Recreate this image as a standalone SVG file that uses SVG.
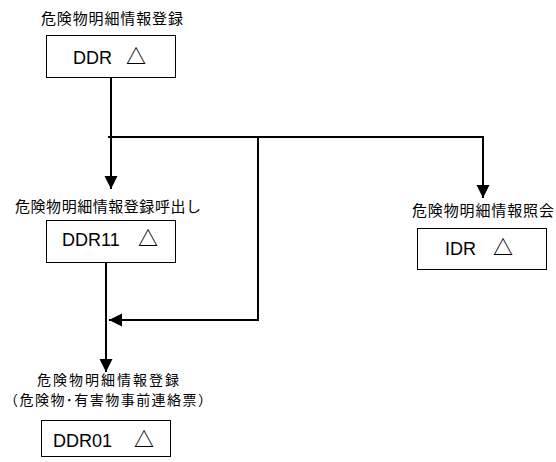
<svg xmlns="http://www.w3.org/2000/svg" width="556" height="462" viewBox="0 0 556 462">
<style>
.box{fill:#fff;stroke:#000;stroke-width:1}
.lbl{font-family:"Noto Sans CJK JP","Noto Sans CJK SC",sans-serif;font-size:15px;fill:#000;text-anchor:middle}
.sm{font-size:14px}
.code{font-family:"Liberation Sans",Arial,sans-serif;font-size:18px;fill:#000}
.tri{font-family:"Noto Sans CJK JP",sans-serif;font-size:20px;font-weight:700;fill:#000}
.ln{fill:none;stroke:#000;stroke-width:2}
</style>
<defs>
<marker id="arr" markerUnits="userSpaceOnUse" markerWidth="14" markerHeight="14" refX="13" refY="6.5" orient="auto">
<path d="M0,0 L13,6.5 L0,13 z" fill="#000"/>
</marker>
</defs>
<rect width="556" height="462" fill="#fff"/>
<g id="connectors">
<path class="ln" d="M111,77 V189" marker-end="url(#arr)"/>
<path class="ln" d="M108,137 H483 V198" marker-end="url(#arr)"/>
<path class="ln" d="M258,137 V320 H109" marker-end="url(#arr)"/>
<path class="ln" d="M106,262 V372" marker-end="url(#arr)"/>
</g>
<g id="DDR">
<text class="lbl" x="112" y="24" textLength="142" lengthAdjust="spacing">危険物明細情報登録</text>
<rect class="box" x="46.5" y="35.5" width="129" height="42"/>
<text class="code" x="73" y="64">DDR</text><text class="tri" x="126" y="64">△</text>
</g>
<g id="DDR11">
<text class="lbl" x="108" y="212" textLength="186" lengthAdjust="spacing">危険物明細情報登録呼出し</text>
<rect class="box" x="46.5" y="220.5" width="129" height="42"/>
<text class="code" x="62" y="246">DDR11</text><text class="tri" x="138" y="246">△</text>
</g>
<g id="IDR">
<text class="lbl" x="483" y="216" textLength="142" lengthAdjust="spacing">危険物明細情報照会</text>
<rect class="box" x="417.5" y="228.5" width="129" height="41"/>
<text class="code" x="445" y="255">IDR</text><text class="tri" x="493" y="255">△</text>
</g>
<g id="DDR01">
<text class="lbl sm" x="108" y="384.5" textLength="142" lengthAdjust="spacing">危険物明細情報登録</text>
<text class="lbl sm" x="108" y="405" textLength="208" lengthAdjust="spacing">（危険物･有害物事前連絡票）</text>
<rect class="box" x="41.5" y="420.5" width="129" height="36"/>
<text class="code" x="53" y="447">DDR01</text><text class="tri" x="134" y="447">△</text>
</g>
</svg>
